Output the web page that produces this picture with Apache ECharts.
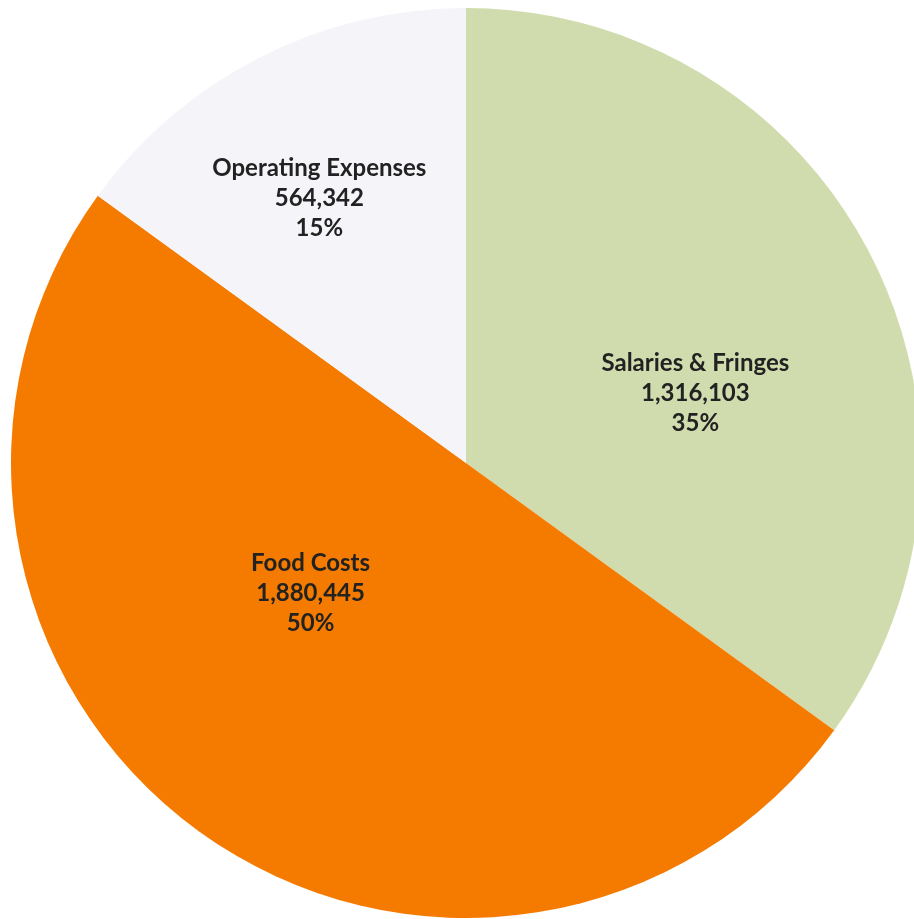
<!DOCTYPE html>
<html>
<head>
<meta charset="utf-8">
<script src="https://cdn.jsdelivr.net/npm/echarts@6/dist/echarts.min.js"></script>
<style>
html,body{margin:0;padding:0;background:#fff;}
#chart{width:914px;height:919px;}
</style>
</head>
<body>
<div id="chart"></div>
<script>
var categories = ['Salaries & Fringes', 'Food Costs', 'Operating Expenses'];
var values = [1316103, 1880445, 564342];

var sliceColors = {'Salaries & Fringes': '#d1dcae', 'Food Costs': '#f57b00', 'Operating Expenses': '#f5f4f8'};
var labelOffsets = {'Salaries & Fringes': [24, 35], 'Food Costs': [-20, -56], 'Operating Expenses': [-42, -59]};

var data = categories.map(function (c, i) {
  return {
    name: c,
    value: values[i],
    itemStyle: { color: sliceColors[c] },
    label: { offset: labelOffsets[c] }
  };
});

var chart = echarts.init(document.getElementById('chart'));
chart.setOption({
  backgroundColor: '#ffffff',
  animation: false,
  series: [{
    type: 'pie',
    center: [466, 463],
    radius: [0, 455],
    startAngle: 90,
    clockwise: true,
    data: data,
    itemStyle: { borderWidth: 0 },
    emphasis: { disabled: true },
    label: {
      show: true,
      position: 'inside',
      fontFamily: 'Lato',
      fontWeight: 'bold',
      fontSize: 24,
      lineHeight: 30,
      color: '#222222',
      align: 'center',
      formatter: function (p) {
        return p.name + '\n' + p.value.toLocaleString('en-US') + '\n' + Math.round(p.percent) + '%';
      }
    },
    labelLine: { show: false }
  }]
});
</script>
</body>
</html>
